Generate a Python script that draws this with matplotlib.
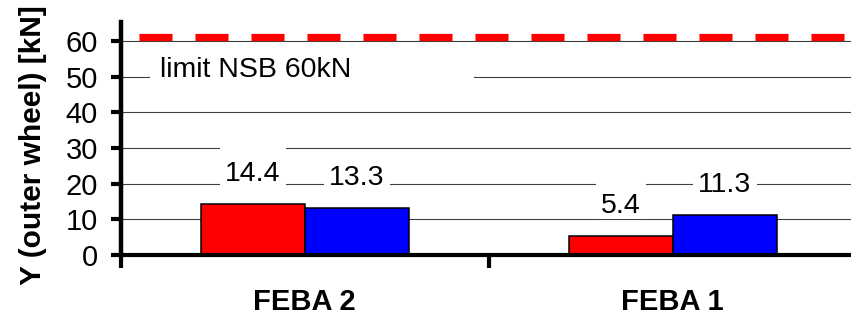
import matplotlib
matplotlib.use("Agg")
import matplotlib.pyplot as plt
import matplotlib.transforms as mtransforms
from matplotlib.patches import Rectangle
from matplotlib.path import Path
import numpy as np

# chart data
categories = ["FEBA 2", "FEBA 1"]
red_values = [14.4, 5.4]
blue_values = [13.3, 11.3]
limit_value = 60
limit_label = "limit NSB 60kN"
y_ticks = [0, 10, 20, 30, 40, 50, 60]

plt.rcParams["font.family"] = ["Liberation Sans", "DejaVu Sans"]
plt.rcParams["lines.scale_dashes"] = False


def label_box(x0, y0, width, height, mutation_size):
    # white box like the Excel data labels: more room above the text than below
    side = 0.18 * mutation_size
    top = 0.48 * mutation_size
    bot = 0.02 * mutation_size
    verts = [(x0 - side, y0 - bot), (x0 + width + side, y0 - bot),
             (x0 + width + side, y0 + height + top), (x0 - side, y0 + height + top),
             (x0 - side, y0 - bot)]
    return Path(verts, closed=True)


fig = plt.figure(figsize=(8.51, 3.17), dpi=100)
ax = fig.add_axes([120.8 / 851, 62 / 317, 736 / 851, 233 / 317])

x = np.arange(len(categories))
bar_w = 0.283

ax.bar(x - bar_w / 2, red_values, bar_w, color="#FF0000", edgecolor="black", linewidth=1.1, zorder=2)
ax.bar(x + bar_w / 2, blue_values, bar_w, color="#0000FF", edgecolor="black", linewidth=1.1, zorder=2)

# value labels with white boxes that cut the gridlines
for xs, vals in ((x - bar_w / 2, red_values), (x + bar_w / 2, blue_values)):
    for xi, v in zip(xs, vals):
        ax.annotate(f"{v:.1f}", (xi, v), xytext=(0, 21.5), textcoords="offset points",
                    ha="center", va="center", fontsize=20.5, zorder=4,
                    bbox=dict(boxstyle=label_box, fc="white", ec="none"))

# limit line, drawn a few points above the 60 gridline
offset = mtransforms.ScaledTranslation(0, 3 / 72, fig.dpi_scale_trans)
lim = ax.axhline(limit_value, xmin=0.0247, xmax=1, color="#FF0000", linewidth=5.2,
                 dashes=(23.76, 16.56), solid_capstyle="butt", dash_capstyle="butt", zorder=3)
lim.set_transform(lim.get_transform() + offset)

ax.add_patch(Rectangle((-0.421, 46), 0.88, 11, facecolor="white", edgecolor="none", zorder=1.5))
ax.text(-0.394, 51.8, limit_label, fontsize=20.5, ha="left", va="center", zorder=3)

ax.set_xlim(-0.5, 1.5)
ax.set_ylim(0, 65.3)
ax.set_yticks(y_ticks)
ax.set_xticks(x)
ax.set_xticklabels(categories, fontsize=21, fontweight="bold")
ax.set_xticks([-0.5, 0.5, 1.5], minor=True)

ax.yaxis.grid(True, color="#404040", linewidth=0.8)
ax.set_axisbelow(True)

for side in ("top", "right"):
    ax.spines[side].set_visible(False)
ax.spines["left"].set_linewidth(3.2)
ax.spines["bottom"].set_linewidth(3.0)

ax.tick_params(axis="y", direction="out", length=7.5, width=3, labelsize=21, pad=9)
ax.tick_params(axis="x", which="major", length=0, pad=23.5)
ax.tick_params(axis="x", which="minor", direction="out", length=9, width=3)

ax.set_ylabel("Y (outer wheel) [kN]", fontsize=21.5, fontweight="bold")
ax.yaxis.set_label_coords(-0.100, 0.47)

fig.savefig("out.png", dpi=100)
